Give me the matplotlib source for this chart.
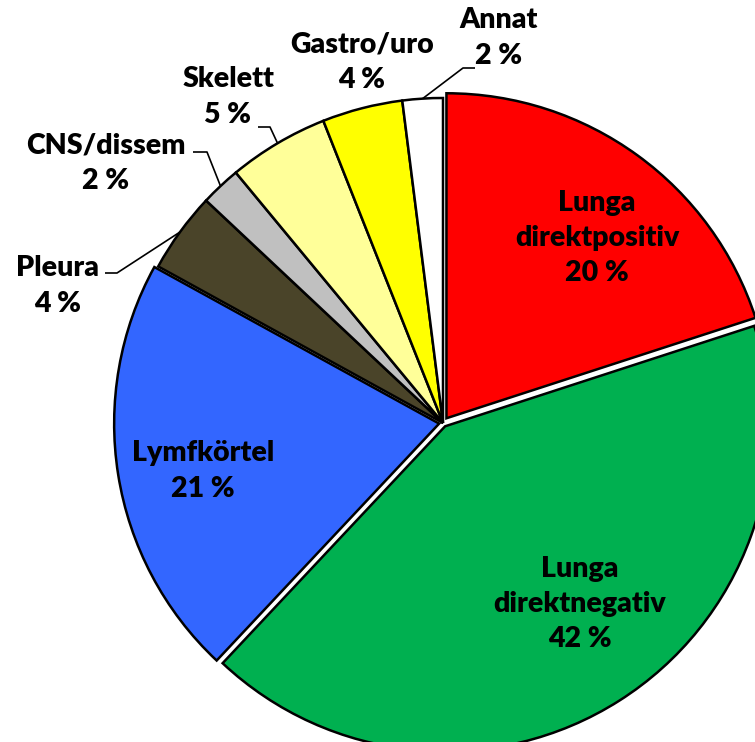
import numpy as np
import matplotlib
matplotlib.use("Agg")
import matplotlib.pyplot as plt

# data
labels = ["Lunga\ndirektpositiv", "Lunga\ndirektnegativ", "Lymfkörtel", "Pleura",
          "CNS/dissem", "Skelett", "Gastro/uro", "Annat"]
values = [20, 42, 21, 4, 2, 5, 4, 2]
colors = ["#FF0000", "#00B050", "#3366FF", "#4A4429",
          "#C0C0C0", "#FFFF99", "#FFFF00", "#FFFFFF"]
explode = [0.018, 0.012, 0.012, 0, 0, 0, 0, 0]

plt.rcParams["font.family"] = ["Lato", "DejaVu Sans"]

W, H = 755, 742
cx, cy, R = 443, 423, 325  # pie centre / radius in pixels


def px(x, y):
    # pixel position -> pie units
    return (x - cx) / R, (cy - y) / R


fig = plt.figure(figsize=(W / 100, H / 100), dpi=100)
ax = fig.add_axes([0, 0, 1, 1])

wedges, _ = ax.pie(values, colors=colors, explode=explode, startangle=90,
                   counterclock=False, radius=1.0,
                   wedgeprops=dict(edgecolor="black", linewidth=1.8))
ax.set_xlim(-cx / R, (W - cx) / R)
ax.set_ylim(-(H - cy) / R, cy / R)
ax.set_aspect("equal")
ax.axis("off")

fs = 20.5
# labels inside the big slices
inside = {0: (597, 238), 1: (580, 604), 2: (203, 471)}
for i, (x, y) in inside.items():
    ax.text(*px(x, y), "%s\n%d %%" % (labels[i], values[i]), ha="center", va="center",
            fontsize=fs, fontweight="heavy", linespacing=1.45)

# outside labels with leader lines (text pos, elbow start, elbow end)
outside = {
    3: ((58, 286), (105, 273), (117, 273)),
    4: ((106, 163), (193, 152), (207, 152)),
    5: ((228, 97), (258, 127), (270, 127)),
    6: ((362, 62), None, None),
    7: ((499, 38), (475, 68), (463, 68)),
}
for i, (tp, a, b) in outside.items():
    ax.text(*px(*tp), "%s\n%d %%" % (labels[i], values[i]), ha="center", va="center",
            fontsize=fs, fontweight="heavy", linespacing=1.45)
    if a is None:
        continue
    w = wedges[i]
    mid = np.deg2rad((w.theta1 + w.theta2) / 2)
    ex, ey = w.center[0] + np.cos(mid), w.center[1] + np.sin(mid)
    p1, p2 = px(*a), px(*b)
    ax.plot([p1[0], p2[0], ex], [p1[1], p2[1], ey], color="black", lw=1.2,
            solid_capstyle="butt")

fig.savefig("out.png", dpi=100)
